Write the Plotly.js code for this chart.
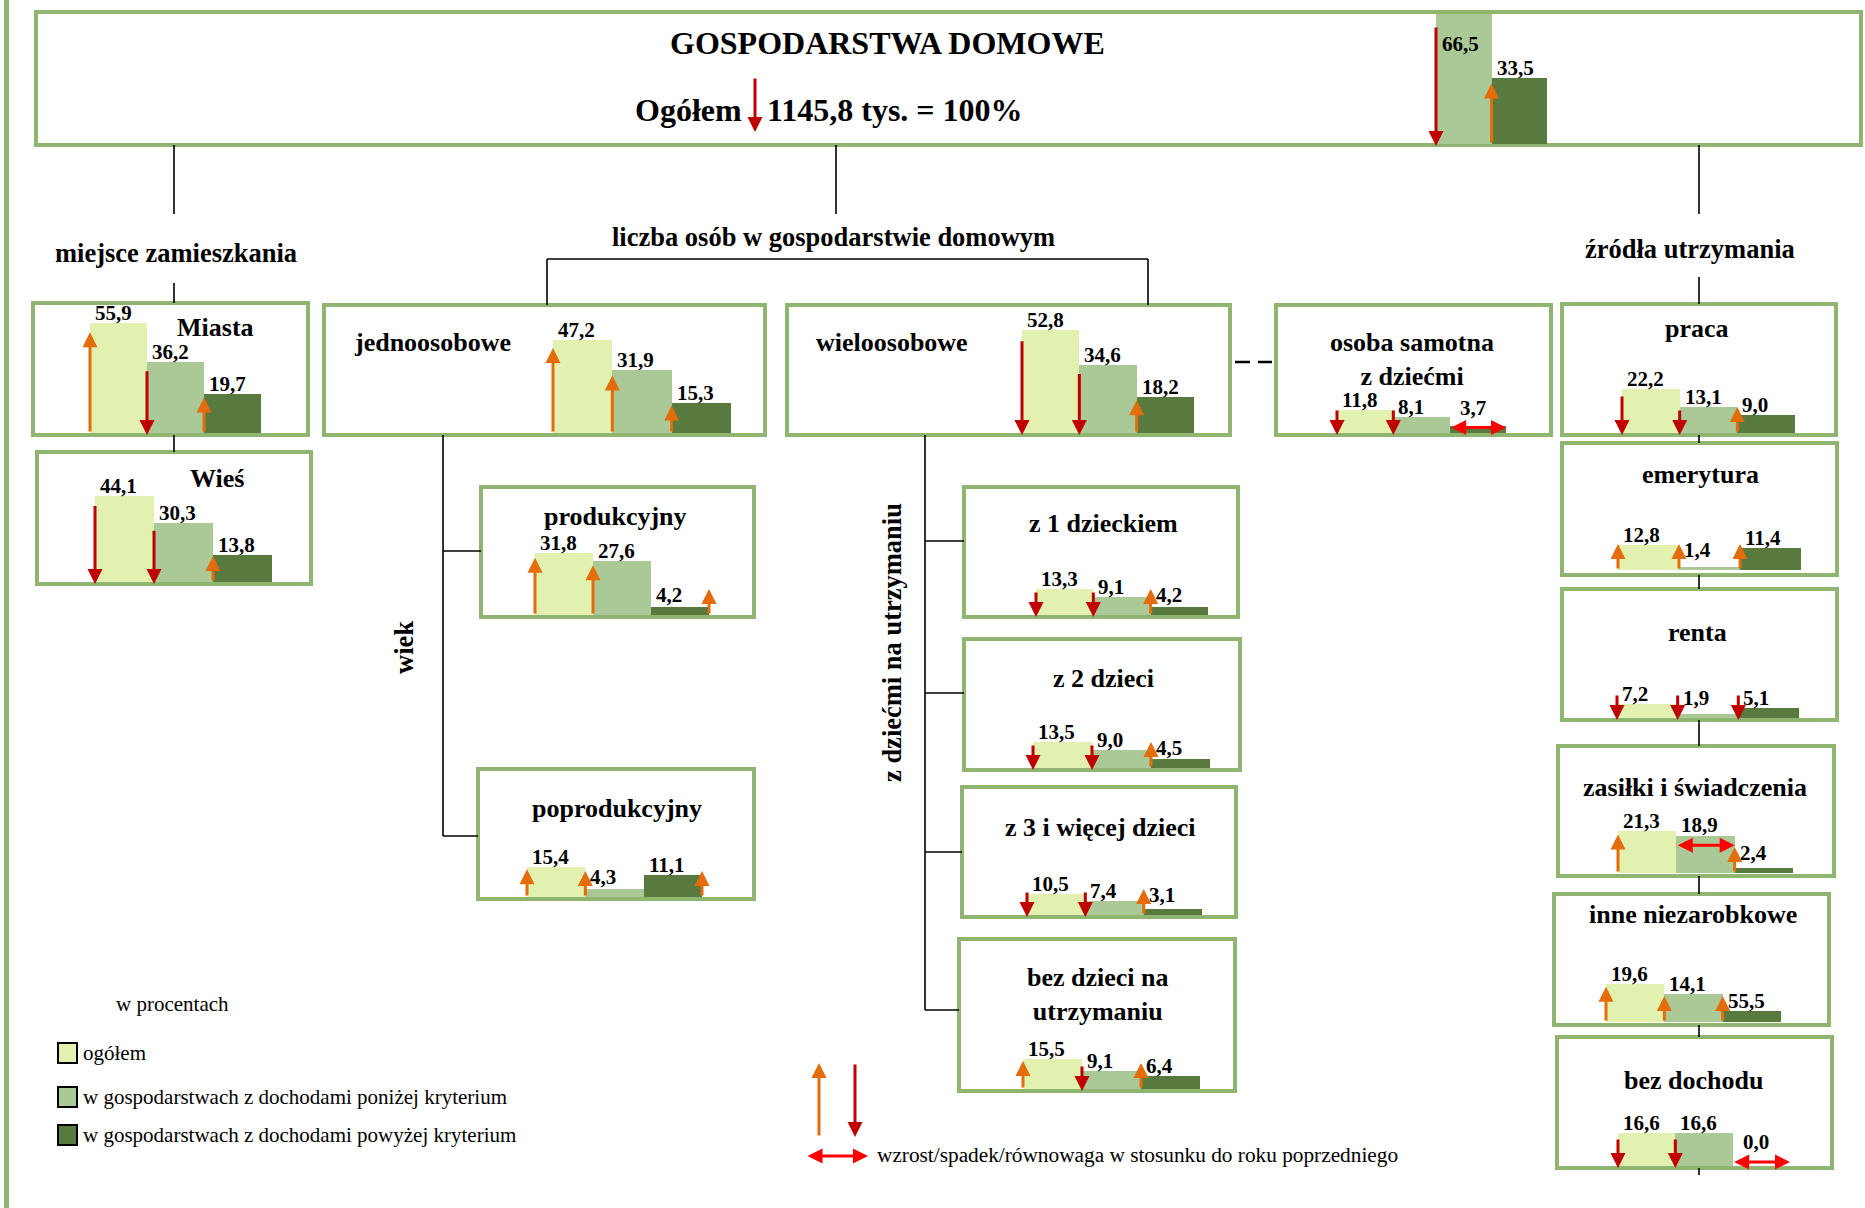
<!DOCTYPE html>
<html><head><meta charset="utf-8">
<script src="https://cdn.plot.ly/plotly-3.0.1.min.js"></script>
<style>html,body{margin:0;padding:0;background:#fff;overflow:hidden}#chart{width:1865px;height:1208px}</style>
</head><body><div id="chart"></div>
<script>
// ---------------- DATA ----------------
const boxNames = ['GOSPODARSTWA DOMOWE','Miasta','Wieś','jednoosobowe','wieloosobowe','osoba samotna\nz dziećmi',
  'produkcyjny','poprodukcyjny','z 1 dzieckiem','z 2 dzieci','z 3 i więcej dzieci','bez dzieci na\nutrzymaniu',
  'praca','emerytura','renta','zasiłki i świadczenia','inne niezarobkowe','bez dochodu'];
const ogolem  = [null,55.9,44.1,47.2,52.8,11.8,31.8,15.4,13.3,13.5,10.5,15.5,22.2,12.8,7.2,21.3,19.6,16.6];
const ponizej = [66.5,36.2,30.3,31.9,34.6,8.1,27.6,4.3,9.1,9.0,7.4,9.1,13.1,1.4,1.9,18.9,14.1,16.6];
const powyzej = [33.5,19.7,13.8,15.3,18.2,3.7,4.2,11.1,4.2,4.5,3.1,6.4,9.0,11.4,5.1,2.4,5.5,0.0];
// label printed in the source differs from the drawn bar for "inne niezarobkowe"
const powyzejPrinted = {16:'55,5'};
const ogolemTrend  = [null,'up','down','up','down','down','up','up','down','down','down','up','down','up','down','up','up','down'];
const ponizejTrend = ['down','down','down','up','down','down','up','up','down','down','down','down','down','up','down','eq','up','down'];
const powyzejTrend = ['up','up','up','up','up','eq','up','up','up','up','up','up','up','up','down','up','up','eq'];
const totalLabel = 'Ogółem';
const totalValue = '1145,8 tys. = 100%';
const totalTrend = 'down';
const seriesNames = ['ogółem','w gospodarstwach z dochodami poniżej kryterium','w gospodarstwach z dochodami powyżej kryterium'];
const sectionLabels = ['miejsce zamieszkania','liczba osób w gospodarstwie domowym','źródła utrzymania','wiek','z dziećmi na utrzymaniu'];
const unitNote = 'w procentach';
const trendNote = 'wzrost/spadek/równowaga w stosunku do roku poprzedniego';

// ---------------- LAYOUT / STYLE ----------------
const W = 1865, H = 1208, S = 1.96; // pixels per percentage point
const FONT = 'Liberation Serif, Times New Roman, serif';
const colors = ['#E2F0B0','#ABC897','#587A3F'];
const BORDER = '#8FB571';
const UP = '#E46C0A', DOWN = '#C00000', EQ = '#FF0000';
const fmt = v => v.toFixed(1).replace('.', ',');

const boxLayout = [
  {box:[36,12,1861,145], bars:[1436,1547], base:144},
  {box:[33,303,308,435], bars:[90,261], base:433, t:[215,327,'center']},
  {box:[37,452,311,584], bars:[95,272], base:582, t:[217,478,'center']},
  {box:[324,305,765,435], bars:[553,731], base:433, t:[352,343,'left']},
  {box:[787,305,1230,435], bars:[1022,1194], base:433, t:[814,343,'left']},
  {box:[1276,305,1551,435], bars:[1337,1506], base:433, t:[1412,359,'center']},
  {box:[481,487,754,617], bars:[535,709], base:615, t:[615,516,'center'], right:[2]},
  {box:[478,769,754,899], bars:[527,702], base:897, t:[617,808,'center'], right:[2]},
  {box:[964,487,1238,617], bars:[1036,1208], base:615, t:[1103,523,'center']},
  {box:[964,639,1240,770], bars:[1033,1210], base:768, t:[1103,678,'center']},
  {box:[962,787,1236,917], bars:[1027,1202], base:915, t:[1100,827,'center']},
  {box:[959,939,1235,1091], bars:[1023,1200], base:1089, t:[1098,994,'center']},
  {box:[1562,304,1836,435], bars:[1622,1795], base:433, t:[1697,328,'center']},
  {box:[1562,443,1837,575], bars:[1618,1801], base:570, t:[1700,475,'center']},
  {box:[1562,589,1837,720], bars:[1617,1799], base:718, t:[1697,632,'center']},
  {box:[1558,746,1834,876], bars:[1618,1793], base:873, t:[1695,787,'center']},
  {box:[1554,894,1829,1025], bars:[1606,1781], base:1022, t:[1693,914,'center']},
  {box:[1557,1037,1832,1168], bars:[1618,1790], base:1166, t:[1693,1080,'center']}
];

const px = x => x / W, py = y => 1 - y / H;
const traces = [], annotations = [], shapes = [];
const layout = {
  width: W, height: H, margin:{l:0,r:0,t:0,b:0}, showlegend:false,
  paper_bgcolor:'#fff', plot_bgcolor:'rgba(0,0,0,0)',
  font:{family:FONT, color:'#000'}, bargap:0
};

// left green rule
shapes.push({type:'rect', xref:'paper', yref:'paper', x0:px(4), x1:px(9), y0:0, y1:1, fillcolor:BORDER, line:{width:0}, layer:'below'});

// boxes
boxLayout.forEach(L => {
  const [x0,y0,x1,y1] = L.box;
  shapes.push({type:'rect', xref:'paper', yref:'paper', x0:px(x0), x1:px(x1), y0:py(y1), y1:py(y0),
    fillcolor:'#fff', line:{color:BORDER, width:4}, layer:'below'});
});

// connectors
const connectors = [
  [174,145,174,214],[174,283,174,303],[174,435,174,452],
  [836,145,836,214],[547,259,1148,259],[547,259,547,305],[1148,259,1148,305],
  [1699,145,1699,214],[1699,277,1699,304],[1699,435,1699,443],[1699,575,1699,589],[1699,720,1699,746],
  [1699,876,1699,894],[1699,1025,1699,1037],[1699,1168,1699,1175],
  [443,435,443,836],[443,551,481,551],[443,836,478,836],
  [925,435,925,1010],[925,541,964,541],[925,693,964,693],[925,852,962,852],[925,1010,959,1010]
];
connectors.forEach(c => shapes.push({type:'line', xref:'paper', yref:'paper', x0:px(c[0]), y0:py(c[1]), x1:px(c[2]), y1:py(c[3]), line:{color:'#000', width:1.6}}));
shapes.push({type:'line', xref:'paper', yref:'paper', x0:px(1235), y0:py(362), x1:px(1272), y1:py(362), line:{color:'#000', width:2.5, dash:'15px,8px'}});

// mini bar charts
boxNames.forEach((name, k) => {
  const L = boxLayout[k];
  const sfx = k === 0 ? '' : String(k + 1);
  const xa = 'x' + sfx, ya = 'y' + sfx;
  const vals = [ogolem[k], ponizej[k], powyzej[k]];
  const trends = [ogolemTrend[k], ponizejTrend[k], powyzejTrend[k]];
  const labels = [ogolem[k] === null ? null : fmt(ogolem[k]), fmt(ponizej[k]), powyzejPrinted[k] || fmt(powyzej[k])];
  const idx = [0,1,2].filter(i => vals[i] !== null);
  const top = L.box[1];
  traces.push({type:'bar', x:idx, y:idx.map(i => vals[i]), width:1,
    marker:{color:idx.map(i => colors[i]), line:{width:0}}, xaxis:xa, yaxis:ya, hoverinfo:'skip', cliponaxis:false});
  layout['xaxis' + sfx] = {domain:[px(L.bars[0]), px(L.bars[1])], range:[idx[0] - 0.5, 2.5], visible:false, fixedrange:true, anchor:ya};
  layout['yaxis' + sfx] = {domain:[py(L.base), py(top)], range:[0, (L.base - top) / S], visible:false, fixedrange:true, anchor:xa};

  idx.forEach(i => {
    const v = vals[i], tr = trends[i];
    let eqY = null;
    // trend arrows
    if (tr === 'eq') {
      eqY = Math.max(0.75 * v, 2);
      annotations.push({xref:xa, yref:ya, axref:xa, ayref:ya, x:i + 0.5, y:eqY, ax:i - 0.5, ay:eqY, text:'',
        showarrow:true, arrowhead:2, arrowsize:1, arrowwidth:3, arrowside:'end+start', arrowcolor:EQ});
    } else if (tr) {
      const len = Math.max(26, 0.92 * v * S) / S;
      const xpos = (L.right && L.right.includes(i)) ? i + 0.5 : i - 0.5;
      if (tr === 'up') {
        annotations.push({xref:xa, yref:ya, axref:xa, ayref:ya, x:xpos, y:len, ax:xpos, ay:0, text:'',
          showarrow:true, arrowhead:2, arrowsize:1, arrowwidth:3, arrowcolor:UP});
      } else {
        annotations.push({xref:xa, yref:ya, axref:xa, ayref:ya, x:xpos, y:-1, ax:xpos, ay:len - 1, text:'',
          showarrow:true, arrowhead:2, arrowsize:1, arrowwidth:3, arrowcolor:DOWN});
      }
    }
    // value labels
    const barTopPx = L.base - v * S;
    if (barTopPx - 20 < top - 6) {
      annotations.push({xref:xa, yref:ya, x:i - 0.5, y:v, text:'<b>' + labels[i] + '</b>', showarrow:false,
        xanchor:'left', yanchor:'top', xshift:4, yshift:-16, font:{size:21}});
    } else {
      const ly = eqY !== null ? Math.max(v, eqY + 5) : Math.max(v, 5);
      annotations.push({xref:xa, yref:ya, x:i - 0.5, y:ly, text:'<b>' + labels[i] + '</b>', showarrow:false,
        xanchor:'left', yanchor:'bottom', xshift:eqY !== null && v < 10 ? 8 : 3, yshift:-4, font:{size:21}});
    }
  });

  // box titles
  if (L.t) {
    annotations.push({xref:'paper', yref:'paper', x:px(L.t[0]), y:py(L.t[1]), xanchor:L.t[2], yanchor:'middle',
      text:'<b>' + name.replace('\n', '<br>') + '</b>', showarrow:false, font:{size:26}});
  }
});

// top box texts
annotations.push({xref:'paper', yref:'paper', x:px(887), y:py(43), xanchor:'center', yanchor:'middle',
  text:'<b>' + boxNames[0] + '</b>', showarrow:false, font:{size:32}});
annotations.push({xref:'paper', yref:'paper', x:px(744), y:py(110), xanchor:'right', yanchor:'middle',
  text:'<b>' + totalLabel + '</b>', showarrow:false, font:{size:32}});
annotations.push({xref:'paper', yref:'paper', x:px(765), y:py(110), xanchor:'left', yanchor:'middle',
  text:'<b>' + totalValue + '</b>', showarrow:false, font:{size:32}});
annotations.push({xref:'paper', yref:'paper', x:px(755), y:py(totalTrend === 'down' ? 132 : 77), ax:0, ay:totalTrend === 'down' ? -55 : 55,
  text:'', showarrow:true, arrowhead:2, arrowsize:1, arrowwidth:3, arrowcolor:totalTrend === 'down' ? DOWN : UP});

// section labels
const secPos = [[176,253,0],[833,237,0],[1690,249,0],[404,648,-90],[892,643,-90]];
sectionLabels.forEach((t, i) => annotations.push({xref:'paper', yref:'paper', x:px(secPos[i][0]), y:py(secPos[i][1]),
  xanchor:'center', yanchor:'middle', textangle:secPos[i][2], text:'<b>' + t + '</b>', showarrow:false, font:{size:26.5}}));

// legend: colours
annotations.push({xref:'paper', yref:'paper', x:px(114), y:py(1004), xanchor:'left', yanchor:'middle', text:unitNote, showarrow:false, font:{size:21}});
const legY = [1053, 1097, 1135];
seriesNames.forEach((t, i) => {
  shapes.push({type:'rect', xref:'paper', yref:'paper', x0:px(58), x1:px(77), y0:py(legY[i] + 10), y1:py(legY[i] - 10),
    fillcolor:colors[i], line:{color:'#000', width:2}});
  annotations.push({xref:'paper', yref:'paper', x:px(81), y:py(legY[i]), xanchor:'left', yanchor:'middle', text:t, showarrow:false, font:{size:21}});
});

// legend: arrows
annotations.push({xref:'paper', yref:'paper', x:px(819), y:py(1063), ax:0, ay:74, text:'', showarrow:true, arrowhead:2, arrowsize:1, arrowwidth:3, arrowcolor:UP});
annotations.push({xref:'paper', yref:'paper', x:px(855), y:py(1137), ax:0, ay:-74, text:'', showarrow:true, arrowhead:2, arrowsize:1, arrowwidth:3, arrowcolor:DOWN});
annotations.push({xref:'paper', yref:'paper', x:px(868), y:py(1156), ax:-62, ay:0, text:'', showarrow:true, arrowhead:2, arrowsize:1, arrowwidth:3, arrowside:'end+start', arrowcolor:EQ});
annotations.push({xref:'paper', yref:'paper', x:px(875), y:py(1155), xanchor:'left', yanchor:'middle', text:trendNote, showarrow:false, font:{size:21.3}});

layout.shapes = shapes;
layout.annotations = annotations;
Plotly.newPlot('chart', traces, layout, {staticPlot:true, displayModeBar:false});
</script></body></html>
